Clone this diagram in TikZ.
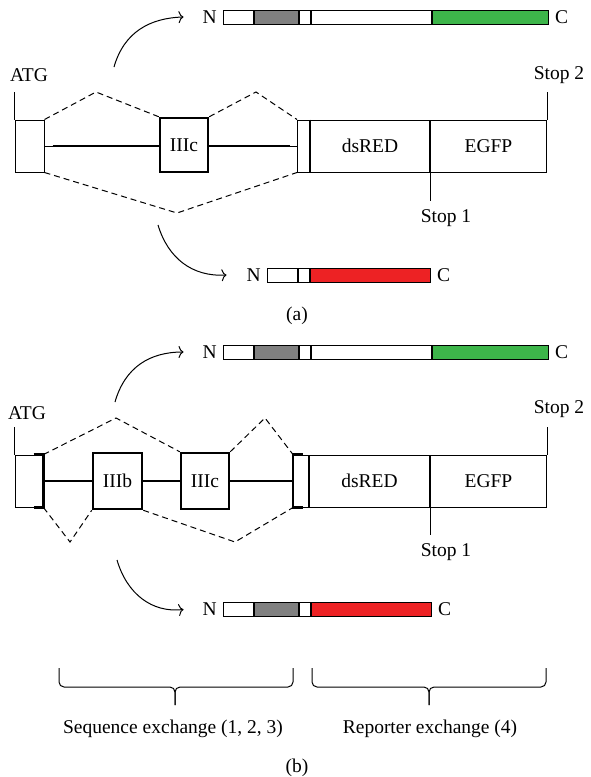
\documentclass[tikz,border=0pt]{standalone}
\usepackage{fontspec}
\setmainfont{Liberation Serif}
\usetikzlibrary{positioning,arrows.meta}
\definecolor{cellgrey}{RGB}{128,128,128}
\definecolor{gfpgreen}{RGB}{61,181,74}
\definecolor{redfp}{RGB}{237,34,36}

\begin{document}
\begin{tikzpicture}[x=1pt,y=-1pt,
	font=\fontsize{19.5}{23}\selectfont,
	cell/.style={draw, line width=1pt, inner sep=0pt, minimum height=14pt, anchor=west},
	exon/.style={draw, line width=1pt, inner sep=0pt, minimum height=52pt},
	alt/.style={draw, line width=2.5pt, inner sep=0pt, minimum height=54pt},
	splice/.style={line width=1pt, dash pattern=on 6pt off 4pt},
	intron/.style={line width=2.5pt},
	arr/.style={-{To[length=5pt,width=12pt]}, line width=1pt},
	brace/.style={line width=1pt, rounded corners=5pt},
	lbl/.style={inner sep=0pt}]
	
	\useasboundingbox (0,0) rectangle (590,777);
	
	%(a) Protein oben
	\node[cell, minimum width=30pt] (at1) at (223,17) {};
	\node[cell, minimum width=44pt, fill=cellgrey] (at2) at (at1.east) {};
	\node[cell, minimum width=11pt] (at3) at (at2.east) {};
	\node[cell, minimum width=120pt] (at4) at (at3.east) {};
	\node[cell, minimum width=116pt, fill=gfpgreen] (at5) at (at4.east) {};
	\node[lbl, left=6pt of at1] (atN) {N};
	\node[lbl, right=6pt of at5] (atC) {C};
	
	%(a) Genmodell
	\node[lbl] (atgA) at (29,75) {ATG};
	\node[exon, minimum width=29pt] (e1A) at (29.5,146) {};
	\node[alt, minimum width=48pt] (c3A) at (184,145) {IIIc};
	\node[exon, minimum width=12pt, anchor=west] (e2A) at (297,146) {};
	\node[exon, minimum width=119pt, anchor=west] (dsA) at (e2A.east) {dsRED};
	\node[exon, minimum width=116pt, anchor=west] (gfA) at (dsA.east) {EGFP};
	\node[lbl] (s2A) at (559,75) {Stop 2};
	\node[lbl] (s1A) at (446,218) {Stop 1};
	
	\draw[line width=1pt] (e1A.north west) -- ++(0,-28); %ATG
	\draw[line width=1pt] (gfA.north east) -- ++(0,-28); %Stop 2
	\draw[line width=1pt] (dsA.south east) -- ++(0,28); %Stop 1
	\draw[line width=1.8pt] (e2A.north east) -- (e2A.south east);
	
	\draw[line width=1pt] (e1A.east) -- ++(8,0);
	\draw[intron] ([xshift=8pt]e1A.east) -- (e1A.east -| c3A.west);
	\draw[intron] (e1A.east -| c3A.east) -- ([xshift=-7pt]e2A.west);
	\draw[line width=1pt] (e2A.west) -- ++(-7,0);
	
	\coordinate (upA1) at (96,92);
	\coordinate (upA2) at (256,92);
	\coordinate (loA) at (177,213);
	\draw[splice] (e1A.north east) -- (upA1) -- (c3A.north west);
	\draw[splice] (c3A.north east) -- (upA2) -- (e2A.north west);
	\draw[splice] (e1A.south east) -- (loA) -- (e2A.south west);
	
	\coordinate (aupA) at (114,67);
	\coordinate (adnA) at (158,225);
	\draw[arr] (aupA) .. controls (124,32) and (150,18) .. ([xshift=-19pt]atN.west);
	
	%(a) Protein unten
	\node[cell, minimum width=30pt] (ab1) at (267,275) {};
	\node[cell, minimum width=11pt] (ab2) at (ab1.east) {};
	\node[cell, minimum width=120pt, fill=redfp] (ab3) at (ab2.east) {};
	\node[lbl, left=6pt of ab1] (abN) {N};
	\node[lbl, right=6pt of ab3] (abC) {C};
	\draw[arr] (adnA) .. controls (168,258) and (192,277) .. ([xshift=-20pt]abN.west);
	
	\node[lbl] (capA) at (297,316) {(a)};
	
	%(b) Protein oben
	\node[cell, minimum width=30pt] (bt1) at (223,352) {};
	\node[cell, minimum width=44pt, fill=cellgrey] (bt2) at (bt1.east) {};
	\node[cell, minimum width=11pt] (bt3) at (bt2.east) {};
	\node[cell, minimum width=120pt] (bt4) at (bt3.east) {};
	\node[cell, minimum width=116pt, fill=gfpgreen] (bt5) at (bt4.east) {};
	\node[lbl, left=6pt of bt1] (btN) {N};
	\node[lbl, right=6pt of bt5] (btC) {C};
	
	%(b) Genmodell
	\node[lbl] (atgB) at (27,413) {ATG};
	\node[exon, minimum width=28pt] (e1B) at (29,481) {};
	\node[alt, minimum width=49pt, minimum height=56pt] (b3B) at (117.5,481) {IIIb};
	\node[alt, minimum width=48pt, minimum height=56pt] (c3B) at (205,481) {IIIc};
	\node[exon, minimum width=15pt, anchor=west] (e2B) at (293,481) {};
	\node[exon, minimum width=120pt, anchor=west] (dsB) at (e2B.east) {dsRED};
	\node[exon, minimum width=116pt, anchor=west] (gfB) at (dsB.east) {EGFP};
	\node[lbl] (s2B) at (559,409) {Stop 2};
	\node[lbl] (s1B) at (446,552) {Stop 1};
	
	\draw[line width=1pt] (e1B.north west) -- ++(0,-28); %ATG
	\draw[line width=1pt] (gfB.north east) -- ++(0,-28); %Stop 2
	\draw[line width=1pt] (dsB.south east) -- ++(0,27); %Stop 1
	
	\draw[intron] ([xshift=-10pt]e1B.north east) -- (e1B.north east) -- (e1B.south east) -- ([xshift=-10pt]e1B.south east);
	\draw[intron] ([xshift=10pt]e2B.north west) -- (e2B.north west) -- (e2B.south west) -- ([xshift=10pt]e2B.south west);
	\draw[intron] (e1B.east) -- (b3B.west);
	\draw[intron] (b3B.east) -- (c3B.west);
	\draw[intron] (c3B.east) -- (e2B.west);
	
	\coordinate (upB1) at (116,418);
	\coordinate (upB2) at (265,418);
	\coordinate (loB1) at (70,542);
	\coordinate (loB2) at (235,542);
	\draw[splice] (e1B.north east) -- (upB1) -- (c3B.north west);
	\draw[splice] (c3B.north east) -- (upB2) -- (e2B.north west);
	\draw[splice] (e1B.south east) -- (loB1) -- (b3B.south west);
	\draw[splice] (b3B.south east) -- (loB2) -- (e2B.south west);
	
	\coordinate (aupB) at (115,402);
	\coordinate (adnB) at (117,560);
	\draw[arr] (aupB) .. controls (125,367) and (150,352) .. ([xshift=-19pt]btN.west);
	
	%(b) Protein unten
	\node[cell, minimum width=30pt] (bb1) at (223,609.5) {};
	\node[cell, minimum width=44pt, fill=cellgrey] (bb2) at (bb1.east) {};
	\node[cell, minimum width=11pt] (bb3) at (bb2.east) {};
	\node[cell, minimum width=120pt, fill=redfp] (bb4) at (bb3.east) {};
	\node[lbl, left=6pt of bb1] (bbN) {N};
	\node[lbl, right=6pt of bb4] (bbC) {C};
	\draw[arr] (adnB) .. controls (127,594) and (152,613) .. ([xshift=-19pt]bbN.west);
	
	%Klammern
	\draw[brace] (59,668) -- (59,687) -- (175,687) -- (175,705);
	\draw[brace] (175,705) -- (175,687) -- (293,687) -- (293,668);
	\draw[brace] (312,668) -- (312,687) -- (429,687) -- (429,705);
	\draw[brace] (429,705) -- (429,687) -- (546,687) -- (546,668);
	\node[lbl] (seqL) at (173,729) {Sequence exchange (1, 2, 3)};
	\node[lbl] (repL) at (430,729) {Reporter exchange (4)};
	
	\node[lbl] (capB) at (297,768) {(b)};
	
\end{tikzpicture}
\end{document}
